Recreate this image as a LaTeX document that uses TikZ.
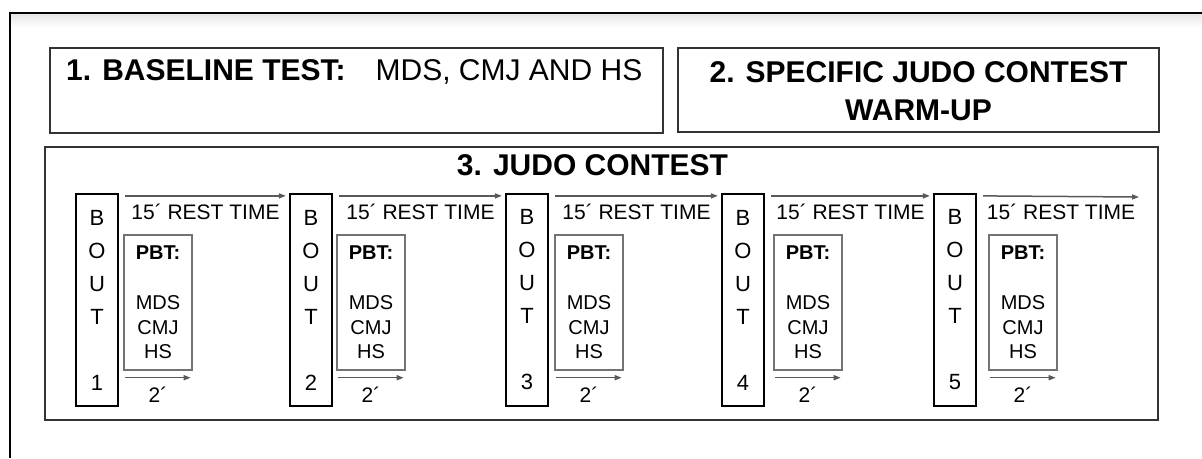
\documentclass[tikz,border=0pt]{standalone}
\usepackage{fontspec}
\setmainfont{Liberation Sans}
\usetikzlibrary{arrows.meta,calc}
\begin{document}
\begin{tikzpicture}[x=1pt,y=-1pt,
  frame/.style={draw=black,line width=2pt},
  bigbox/.style={draw=black!80,line width=2pt,inner sep=0pt},
  boutbox/.style={draw=black,line width=2.2pt,minimum width=42pt,minimum height=212pt,inner sep=0pt,align=center,font=\fontsize{22}{33}\selectfont},
  pbtbox/.style={draw=black!55,line width=1.4pt,minimum width=68pt,minimum height=135pt,inner sep=0pt,align=center,font=\fontsize{20}{24.75}\selectfont},
  restarrow/.style={draw=black!65,line width=1.5pt,-{Triangle[length=7pt,width=5pt]}},
  titlefont/.style={font=\fontsize{30}{38}\selectfont\bfseries,inner sep=0pt},
  lbl/.style={font=\fontsize{21}{25}\selectfont,inner sep=0pt,text=black},
]
\useasboundingbox (0,0) rectangle (1202,458);
\fill[white] (0,0) rectangle (1202,458);
% outer frame with faint shadow
\shade[top color=black!10,bottom color=white] (11,14) rectangle (1202,27);
\draw[frame] (9,13) -- (1202,13);
\draw[frame] (10,13) -- (10,458);

% top boxes
\node[bigbox,minimum width=613pt,minimum height=85pt] (box1) at (356.5,90.5) {};
\node[titlefont,anchor=west] (t1) at ($(box1.west)+(17,-18.5)$) {1. BASELINE TEST:\quad\mdseries MDS, CMJ AND HS};
\node[bigbox,minimum width=481pt,minimum height=84pt] (box2) at (918.5,90) {};
\node[titlefont,align=center] (t2) at ($(box2.center)+(0,1)$) {2. SPECIFIC JUDO CONTEST\\WARM-UP};

% contest box
\node[bigbox,minimum width=1113pt,minimum height=273pt] (box3) at (601.5,283.5) {};
\node[titlefont] (t3) at ($(box3.north)+(-9,19)$) {3. JUDO CONTEST};

\foreach \i/\bx/\px in {1/76/124, 2/290/337, 3/506/555, 4/722/774, 5/934/989} {
  \node[boutbox] (b\i) at (\bx+21,300) {B\\O\\U\\T\\[33pt]\i};
  \node[pbtbox] (p\i) at (\px+34,302.5) {\textbf{PBT:}\\[24.75pt]MDS\\CMJ\\HS};
  \draw[restarrow] ($(p\i.south west)+(2,7)$) -- ($(p\i.south east)+(-2,7)$)
     node[lbl,midway,yshift=-17pt] (s\i) {2´};
}
\foreach \i in {1,2,3,4} {
  \pgfmathtruncatemacro\j{\i+1}
  \draw[restarrow] ($(b\i.north east)+(6,3)$) -- ($(b\j.north west)+(-3,3)$)
     node[lbl,midway,yshift=-15.5pt] (r\i) {15´ REST TIME};
}
\coordinate (e5) at (1139,197);
\draw[restarrow] ($(b5.north east)+(6,3)$) -- (e5)
   node[lbl,midway,yshift=-15.5pt] (r5) {15´ REST TIME};
\end{tikzpicture}
\end{document}
